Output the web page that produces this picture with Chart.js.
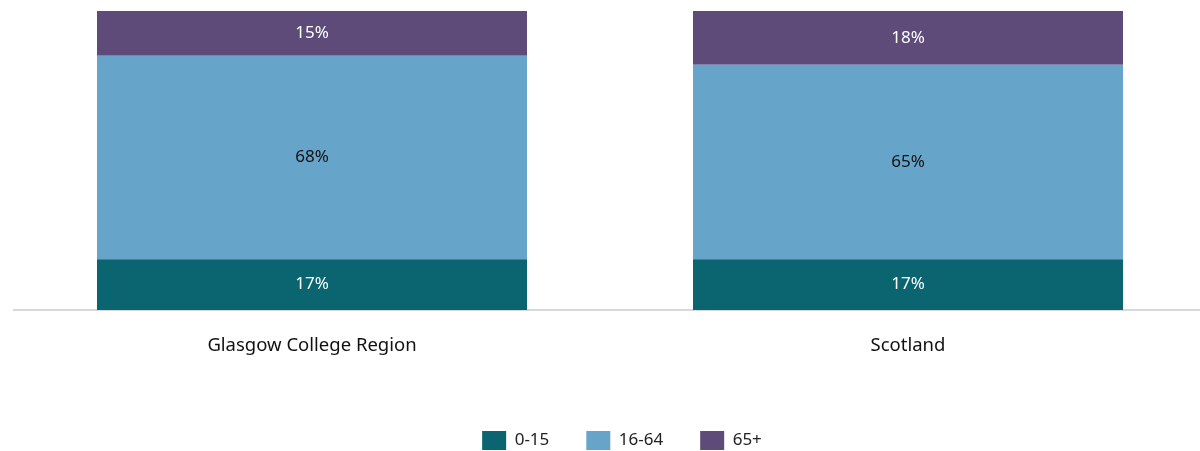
<!DOCTYPE html>
<html>
<head>
<meta charset="utf-8">
<script src="https://cdn.jsdelivr.net/npm/chart.js@4/dist/chart.umd.min.js"></script>
<style>
  html, body { margin: 0; padding: 0; background: #fff; overflow: hidden; }
  #wrap { width: 1206px; height: 460px; }
</style>
</head>
<body>
<div id="wrap"><canvas id="ageChart" width="1206" height="460"></canvas></div>
<script>
const categories = ['Glasgow College Region', 'Scotland'];
const seriesNames = ['0-15', '16-64', '65+'];
const age0to15 = [17, 17];
const age16to64 = [68, 65];
const age65plus = [15, 18];

const colors = ['#0a6570', '#67a4c9', '#5f4b7a'];
const labelColors = ['#ffffff', '#111111', '#ffffff'];
const FONT = "'Noto Sans', sans-serif";

// percentage labels in the middle of each segment
const barLabels = {
  id: 'barLabels',
  afterDatasetsDraw(chart) {
    const { ctx } = chart;
    ctx.save();
    ctx.font = `17px ${FONT}`;
    ctx.textAlign = 'center';
    ctx.textBaseline = 'middle';
    chart.data.datasets.forEach((ds, i) => {
      const meta = chart.getDatasetMeta(i);
      meta.data.forEach((bar, j) => {
        const mid = (bar.y + bar.base) / 2;
        ctx.fillStyle = labelColors[i];
        ctx.fillText(`${ds.data[j]}%`, bar.x, mid);
      });
    });
    ctx.restore();
  },
};

// legend in the original sits a little right of centre
const legendNudge = {
  id: 'legendNudge',
  afterLayout(chart) {
    if (!chart.legend) return;
    chart.legend.left += 12;
    chart.legend.right += 12;
  },
};

const datasets = [age0to15, age16to64, age65plus].map((data, i) => ({
  label: seriesNames[i],
  data,
  backgroundColor: colors[i],
  borderWidth: 0,
  barPercentage: 1,
  categoryPercentage: 0.7215,
}));

new Chart(document.getElementById('ageChart'), {
  type: 'bar',
  data: { labels: categories, datasets },
  options: {
    responsive: false,
    animation: false,
    layout: { padding: { top: 11, left: 14, right: 0, bottom: 0 } },
    plugins: {
      tooltip: { enabled: false },
      legend: {
        position: 'bottom',
        labels: {
          color: '#222',
          font: { family: FONT, size: 17 },
          boxWidth: 24,
          boxHeight: 19,
          padding: 37,
        },
      },
    },
    scales: {
      x: {
        stacked: true,
        grid: { display: false },
        border: { color: '#d9d9d9', width: 2 },
        ticks: { color: '#111', font: { family: FONT, size: 18.5 }, padding: 17 },
        afterFit(scale) { scale.height = 84; },
      },
      y: {
        stacked: true,
        display: false,
        min: 0,
        max: 100,
      },
    },
  },
  plugins: [barLabels, legendNudge],
});
</script>
</body>
</html>
